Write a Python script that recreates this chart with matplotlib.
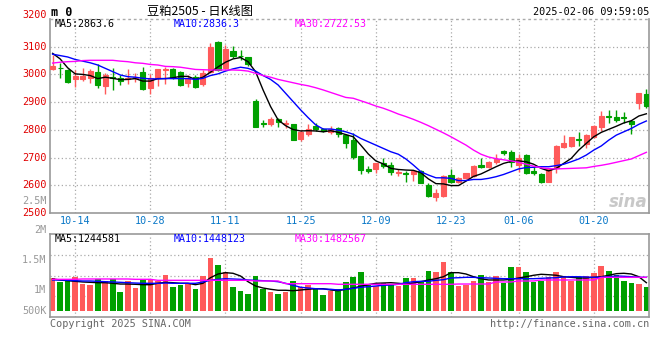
import matplotlib
matplotlib.use("Agg")
import matplotlib.pyplot as plt
import numpy as np

# ---------------- data ----------------
opens = [3020, 3025, 3016, 2982, 2983, 2988, 3009, 2959, 2990, 2986,
         2984, 2986, 3009, 2952, 2986, 3017, 3021, 3009, 2970, 2991,
         2965, 3008, 3118, 3022, 3085, 3068, 3063, 2904, 2823, 2821,
         2840, 2820, 2820, 2767, 2786, 2814, 2803, 2791, 2805, 2781,
         2763, 2706, 2659, 2660, 2680, 2673, 2645, 2645, 2642, 2653,
         2601, 2559, 2561, 2637, 2613, 2625, 2635, 2673, 2667, 2683,
         2723, 2719, 2673, 2709, 2650, 2639, 2613, 2661, 2738, 2740,
         2766, 2750, 2775, 2811, 2850, 2847, 2846, 2832, 2896, 2928]
highs = [3070, 3040, 3018, 3016, 3022, 3021, 3036, 3004, 3023, 2998,
         3021, 3006, 3027, 3001, 3021, 3028, 3023, 3011, 2998, 2998,
         3016, 3113, 3122, 3106, 3103, 3088, 3063, 2911, 2836, 2846,
         2843, 2835, 2822, 2800, 2820, 2824, 2805, 2813, 2810, 2784,
         2787, 2706, 2671, 2682, 2698, 2684, 2657, 2653, 2656, 2655,
         2608, 2586, 2637, 2659, 2629, 2645, 2673, 2698, 2688, 2713,
         2729, 2727, 2714, 2712, 2669, 2645, 2661, 2745, 2781, 2774,
         2791, 2786, 2818, 2868, 2872, 2870, 2863, 2832, 2932, 2946]
lows = [3016, 2986, 2970, 2956, 2977, 2970, 2952, 2929, 2945, 2962,
        2965, 2974, 2945, 2929, 2959, 2965, 2983, 2960, 2956, 2952,
        2959, 3004, 3013, 3018, 3058, 3052, 3032, 2809, 2811, 2815,
        2811, 2805, 2764, 2760, 2778, 2797, 2791, 2785, 2774, 2736,
        2695, 2642, 2644, 2645, 2661, 2638, 2635, 2613, 2617, 2607,
        2556, 2544, 2559, 2607, 2607, 2622, 2631, 2663, 2661, 2677,
        2709, 2667, 2649, 2639, 2637, 2610, 2613, 2643, 2733, 2738,
        2743, 2733, 2772, 2797, 2823, 2830, 2823, 2784, 2875, 2880]
closes = [3030, 3023, 2974, 2995, 2994, 3012, 2962, 2998, 2988, 2977,
          2986, 2989, 2949, 2988, 3018, 3020, 2988, 2962, 2988, 2955,
          3006, 3099, 3016, 3092, 3068, 3066, 3036, 2811, 2820, 2839,
          2827, 2824, 2764, 2792, 2803, 2802, 2796, 2803, 2784, 2754,
          2703, 2656, 2653, 2682, 2669, 2647, 2647, 2642, 2650, 2609,
          2561, 2572, 2632, 2613, 2625, 2645, 2669, 2666, 2685, 2695,
          2715, 2685, 2697, 2645, 2645, 2613, 2659, 2742, 2752, 2774,
          2762, 2781, 2815, 2851, 2845, 2836, 2841, 2820, 2932, 2887]

ma5 = [3076, 3056, 3024, 3002, 3000, 2996, 2985, 2990, 2986, 2981,
       2982, 2985, 2976, 2976, 2985, 2985, 2988, 2993, 2993, 2982,
       2990, 3008, 3027, 3044, 3056, 3061, 3046, 3010, 2944, 2884,
       2836, 2815, 2801, 2796, 2797, 2796, 2793, 2797, 2791, 2783,
       2775, 2745, 2713, 2688, 2677, 2661, 2657, 2655, 2654, 2645,
       2623, 2606, 2605, 2599, 2599, 2615, 2632, 2641, 2654, 2667,
       2679, 2686, 2688, 2685, 2676, 2661, 2652, 2661, 2679, 2697,
       2727, 2751, 2775, 2791, 2802, 2813, 2825, 2833, 2850, 2858]
ma10 = [3073, 3068, 3063, 3054, 3048, 3042, 3034, 3022, 3010, 2998,
        2992, 2990, 2986, 2984, 2984, 2985, 2985, 2985, 2985, 2982,
        2986, 2996, 3002, 3012, 3020, 3026, 3022, 3012, 2996, 2982,
        2962, 2932, 2902, 2872, 2844, 2818, 2803, 2803, 2799, 2793,
        2784, 2769, 2757, 2745, 2733, 2721, 2712, 2695, 2673, 2649,
        2637, 2627, 2627, 2625, 2617, 2617, 2621, 2621, 2625, 2631,
        2639, 2649, 2659, 2664, 2665, 2667, 2667, 2671, 2676, 2685,
        2695, 2709, 2727, 2742, 2763, 2781, 2793, 2805, 2820, 2832]
ma30 = [3041, 3044, 3046, 3047, 3050, 3051, 3051, 3051, 3051, 3048,
        3046, 3042, 3040, 3036, 3034, 3029, 3028, 3026, 3022, 3018,
        3017, 3016, 3016, 3016, 3016, 3015, 3012, 3004, 2996, 2990,
        2982, 2976, 2970, 2964, 2959, 2952, 2944, 2935, 2926, 2917,
        2914, 2905, 2896, 2886, 2878, 2868, 2857, 2848, 2838, 2827,
        2815, 2802, 2789, 2775, 2760, 2745, 2727, 2712, 2702, 2696,
        2692, 2688, 2683, 2676, 2669, 2663, 2660, 2659, 2660, 2661,
        2662, 2663, 2668, 2672, 2677, 2683, 2689, 2695, 2707, 2719]

# volume (millions)
volumes = [1.199, 1.133, 1.169, 1.217, 1.096, 1.078, 1.187, 1.151, 1.192, 0.952,
           1.151, 1.024, 1.163, 1.169, 1.151, 1.259, 1.042, 1.084, 1.120, 1.006,
           1.241, 1.566, 1.440, 1.313, 1.042, 0.975, 0.916, 1.241, 1.011, 0.952,
           0.916, 0.952, 1.151, 1.037, 1.084, 1.001, 0.898, 0.970, 1.001, 1.133,
           1.223, 1.313, 1.096, 1.060, 1.120, 1.078, 1.060, 1.205, 1.205, 1.151,
           1.331, 1.319, 1.494, 1.313, 1.060, 1.084, 1.151, 1.259, 1.138, 1.241,
           1.109, 1.404, 1.404, 1.313, 1.138, 1.151, 1.223, 1.313, 1.241, 1.151,
           1.223, 1.241, 1.295, 1.422, 1.331, 1.259, 1.151, 1.114, 1.096, 1.042]
vol_ma5 = [1.187, 1.169, 1.156, 1.145, 1.133, 1.127, 1.120, 1.120, 1.109, 1.096,
           1.096, 1.091, 1.084, 1.084, 1.109, 1.127, 1.120, 1.109, 1.109, 1.084,
           1.109, 1.210, 1.277, 1.301, 1.290, 1.241, 1.138, 1.060, 1.024, 1.001,
           0.983, 0.983, 0.975, 0.988, 1.001, 1.011, 1.011, 0.988, 0.975, 1.001,
           1.024, 1.055, 1.084, 1.109, 1.114, 1.120, 1.109, 1.096, 1.114, 1.138,
           1.169, 1.192, 1.228, 1.301, 1.301, 1.277, 1.228, 1.192, 1.169, 1.169,
           1.169, 1.181, 1.205, 1.228, 1.254, 1.272, 1.264, 1.254, 1.228, 1.217,
           1.205, 1.205, 1.217, 1.228, 1.254, 1.283, 1.290, 1.277, 1.228, 1.120]
vol_ma10 = [1.169, 1.169, 1.163, 1.156, 1.151, 1.151, 1.145, 1.138, 1.133, 1.127,
            1.120, 1.114, 1.109, 1.109, 1.109, 1.114, 1.109, 1.109, 1.109, 1.109,
            1.133, 1.163, 1.181, 1.192, 1.187, 1.181, 1.169, 1.163, 1.156, 1.151,
            1.138, 1.109, 1.073, 1.037, 1.024, 1.011, 1.006, 1.001, 0.988, 1.001,
            1.019, 1.037, 1.048, 1.060, 1.073, 1.078, 1.091, 1.120, 1.138, 1.145,
            1.145, 1.163, 1.174, 1.205, 1.210, 1.217, 1.217, 1.210, 1.205, 1.199,
            1.192, 1.192, 1.192, 1.192, 1.192, 1.199, 1.205, 1.210, 1.223, 1.228,
            1.228, 1.223, 1.217, 1.217, 1.228, 1.241, 1.236, 1.228, 1.217, 1.217]
vol_ma30 = [1.181, 1.181, 1.181, 1.181, 1.187, 1.187, 1.187, 1.187, 1.187, 1.187,
            1.187, 1.181, 1.181, 1.181, 1.163, 1.163, 1.163, 1.163, 1.163, 1.163,
            1.163, 1.163, 1.163, 1.163, 1.163, 1.163, 1.163, 1.151, 1.151, 1.151,
            1.151, 1.102, 1.102, 1.102, 1.102, 1.102, 1.102, 1.102, 1.091, 1.091,
            1.091, 1.091, 1.091, 1.091, 1.091, 1.091, 1.091, 1.091, 1.091, 1.091,
            1.091, 1.091, 1.091, 1.091, 1.096, 1.096, 1.096, 1.096, 1.096, 1.133,
            1.133, 1.133, 1.151, 1.151, 1.151, 1.169, 1.169, 1.169, 1.169, 1.169,
            1.169, 1.169, 1.169, 1.217, 1.217, 1.217, 1.217, 1.217, 1.217, 1.217]

date_ticks = [3, 13, 23, 33, 43, 53, 62, 72]
date_labels = ["10-14", "10-28", "11-11", "11-25", "12-09", "12-23", "01-06", "01-20"]
price_ticks = [3200, 3100, 3000, 2900, 2800, 2700, 2600, 2500]
vol_tick_labels = ["2M", "1.5M", "1M", "500K"]

title = "豆粕2505 - 日K线图"
timestamp = "2025-02-06 09:59:05"
ma_price_text = ["MA5:2863.6", "MA10:2836.3", "MA30:2722.53"]
ma_vol_text = ["MA5:1244581", "MA10:1448123", "MA30:1482567"]

# ---------------- style ----------------
W, H = 660, 360
RED = "#ff5a5a"
GREEN = "#00a000"
GRID = "#aaaaaa"
FRAME = "#999999"
MONO = ["DejaVu Sans Mono"]
AXLBL = "#e00000"

def fx(px):
    return px / W

def fy(py):
    return 1 - py / H

fig = plt.figure(figsize=(6.6, 3.6), dpi=100)
fig.patch.set_facecolor("white")

xl = (-0.35, 79.35)
ax1 = fig.add_axes([fx(50), fy(213), fx(599), 194 / H])
ax2 = fig.add_axes([fx(50), fy(317), fx(599), 83 / H])

x = np.arange(len(closes))
o = np.array(opens); c = np.array(closes)
hi = np.array(highs); lo = np.array(lows)
up = c >= o
cols = np.where(up, RED, GREEN)

# ---- price panel ----
ax1.set_xlim(*xl)
ax1.set_ylim(2500, 3200)
for p in price_ticks[1:-1]:
    ax1.axhline(p, color=GRID, lw=0.9, ls=(0, (1, 2)), zorder=0)
ax1.axhline(3200, color=GRID, lw=1.0, ls=(0, (2, 2)), zorder=0, clip_on=False)
for t in date_ticks:
    ax1.axvline(t, color=GRID, lw=0.9, ls=(0, (1, 2)), zorder=0)

ax1.vlines(x, lo, hi, colors=cols, lw=1.0, zorder=2)
body_b = np.minimum(o, c)
body_h = np.abs(c - o)
ax1.bar(x, body_h, bottom=body_b, width=0.68, color=cols, edgecolor=cols,
        linewidth=0.8, zorder=3)
ax1.plot(x, ma5, color="black", lw=1.0, zorder=4)
ax1.plot(x, ma10, color="#0000ff", lw=1.0, zorder=4)
ax1.plot(x, ma30, color="#ff00ff", lw=1.0, zorder=4)

for sp in ["left", "right", "bottom"]:
    ax1.spines[sp].set_color(FRAME)
    ax1.spines[sp].set_linewidth(1.2)
ax1.spines["top"].set_visible(False)
ax1.set_xticks([]); ax1.set_yticks([])

# ---- volume panel ----
ax2.set_xlim(*xl)
ax2.set_ylim(0.5, 2.0)
for v in [1.625, 1.25, 0.875]:
    ax2.axhline(v, color=GRID, lw=0.9, ls=(0, (1, 2)), zorder=0)
for t in date_ticks:
    ax2.axvline(t, color=GRID, lw=0.9, ls=(0, (1, 2)), zorder=0)
vol_base = 0.608
ax2.bar(x, np.array(volumes) - vol_base, bottom=vol_base, width=0.74,
        color=cols, linewidth=0, zorder=2)
ax2.plot(x, vol_ma5, color="black", lw=1.0, zorder=4)
ax2.plot(x, vol_ma10, color="#0000ff", lw=1.0, zorder=4)
ax2.plot(x, vol_ma30, color="#ff00ff", lw=1.0, zorder=4)
for sp in ax2.spines.values():
    sp.set_color(FRAME)
    sp.set_linewidth(1.2)
ax2.set_xticks([]); ax2.set_yticks([])

# ---- texts ----
fig.text(fx(51), fy(12), "m 0", fontsize=8.5, fontweight="bold",
         family=MONO, va="center", ha="left")
fig.text(fx(200), fy(11), title, fontsize=8.8,
         family=["Noto Sans CJK SC", "DejaVu Sans"], va="center", ha="center")
fig.text(fx(649), fy(12), timestamp, fontsize=7.3, family=MONO,
         va="center", ha="right")

ma_x = [55, 174, 295]
ma_cols = ["black", "#0000ff", "#ff00ff"]
for t, xx, cc in zip(ma_price_text, ma_x, ma_cols):
    fig.text(fx(xx), fy(24), t, fontsize=7.2, family=MONO, color=cc,
             va="center", ha="left")
for t, xx, cc in zip(ma_vol_text, ma_x, ma_cols):
    fig.text(fx(xx), fy(238.5), t, fontsize=7.2, family=MONO, color=cc,
             va="center", ha="left")

# price axis labels
price_label_y = {3200: 15}
for p in price_ticks:
    py = 19 + (3200 - p) * 194 / 700
    py = price_label_y.get(p, py)
    fig.text(fx(46.5), fy(py), str(p), fontsize=7.3, family=MONO,
             color=AXLBL, va="center", ha="right")
fig.text(fx(46.5), fy(201), "2.5M", fontsize=7.3, family=MONO,
         color="#999999", va="center", ha="right")

# volume axis labels
for t, py in zip(vol_tick_labels, [230, 260, 290, 311]):
    fig.text(fx(46.5), fy(py), t, fontsize=7.3, family=MONO,
             color="#999999", va="center", ha="right")

# date labels
for t, lab in zip(date_ticks, date_labels):
    px = 52.6 + 7.52 * t
    fig.text(fx(px), fy(221), lab, fontsize=7.3, family=MONO,
             color="#0a78c8", va="center", ha="center")

fig.text(fx(50), fy(324), "Copyright 2025 SINA.COM", fontsize=7.3,
         family=MONO, color="#666666", va="center", ha="left")
fig.text(fx(649), fy(324), "http://finance.sina.com.cn", fontsize=7.3,
         family=MONO, color="#666666", va="center", ha="right")

# watermark
fig.text(fx(628), fy(202), "sina", fontsize=12, fontweight="bold",
         style="italic", color="#c8c8c8", va="center", ha="center",
         family=["DejaVu Sans"])

fig.savefig("out.png", dpi=100, facecolor="white")
